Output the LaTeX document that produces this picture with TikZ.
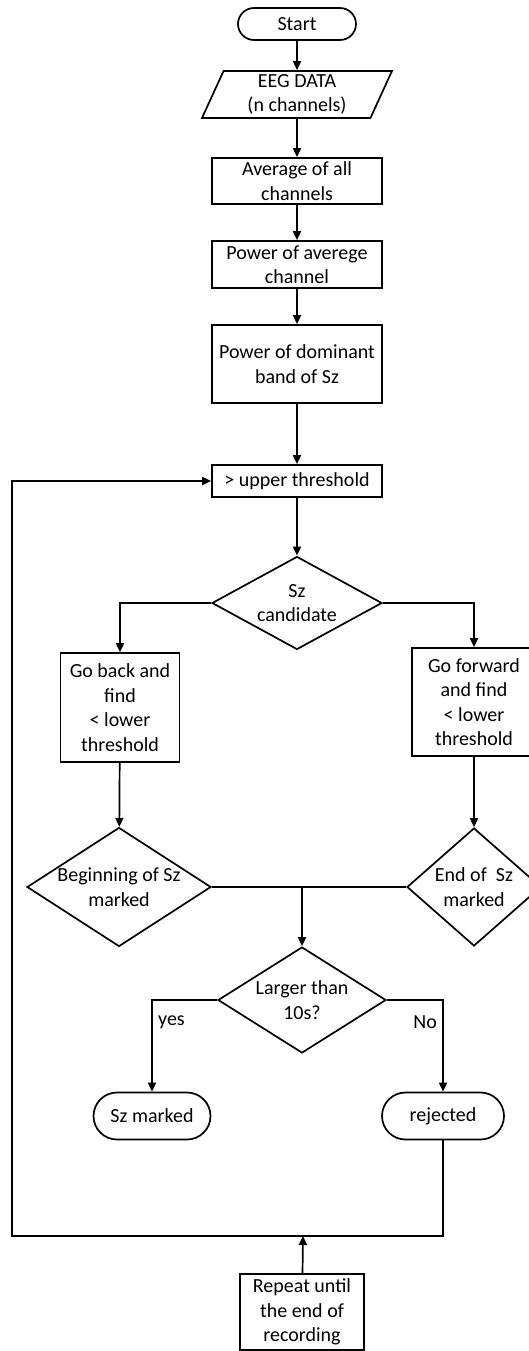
\documentclass[tikz,border=0pt]{standalone}
\usepackage{fontspec}
\setmainfont{Carlito}
\usetikzlibrary{shapes.geometric,shapes.misc,arrows.meta}

\tikzset{
  stepbox/.style={draw, rectangle, align=center, inner sep=1pt},
  terminal/.style={draw, rounded rectangle, align=center, inner sep=1pt},
  decision/.style={draw, diamond, align=center, inner sep=0pt},
  datain/.style={draw, trapezium, trapezium left angle=64, trapezium right angle=116,
    trapezium stretches body, align=center, inner sep=2pt},
  flow/.style={-{Triangle[length=9pt,width=8pt]}},
}

\begin{document}
\begin{tikzpicture}[x=1pt,y=-1pt,line width=1.7pt,
  every node/.style={font=\fontsize{20}{24.5}\selectfont}]
            \useasboundingbox (0,0) rectangle (529,1351);

            \node[terminal,minimum width=120,minimum height=32] (start) at (297,24) {Start};
            \node[datain,minimum width=190,minimum height=47] (eeg) at (297,94.5) {EEG DATA\\(n channels)};
            \node[stepbox,minimum width=170,minimum height=46] (avg) at (297,181) {Average of all\\channels};
            \node[stepbox,minimum width=170,minimum height=47] (pow) at (297,264.5) {Power of averege\\channel};
            \node[stepbox,minimum width=170,minimum height=78] (band) at (297,364) {Power of dominant\\band of Sz};
            \node[stepbox,minimum width=170,minimum height=32] (upper) at (297,481) {\textgreater\ upper threshold};

            \node[decision,minimum width=170,minimum height=93,aspect=1.83] (cand) at (297,603) {Sz\\candidate};
            \node[stepbox,minimum width=119,minimum height=109] (back) at (120,707.5) {Go back and\\find\\\textless\ lower\\threshold};
            \node[stepbox,minimum width=124,minimum height=108] (fwd) at (474,702) {Go forward\\and find\\\textless\ lower\\threshold};

            \node[decision,minimum width=184,minimum height=119,aspect=1.55] (begin) at (119,887) {Beginning of Sz\\marked};
            \node[decision,minimum width=134,minimum height=118,aspect=1.13] (end) at (474,887) {End of~ Sz\\marked};
            \node[decision,minimum width=168,minimum height=106,aspect=1.58] (len) at (302,1000) {Larger than\\10s?};

            \node[terminal,minimum width=119,minimum height=47] (marked) at (152,1116) {Sz marked};
            \node[terminal,minimum width=124,minimum height=47] (rej) at (443,1116) {rejected};
            \node[stepbox,minimum width=124,minimum height=76] (rep) at (302,1312) {Repeat until\\the end of\\recording};

            \coordinate (join) at (302,887);
            \coordinate (loop) at (303,1236);

            % main line
            \draw[flow] (start) -- (eeg);
            \draw[flow] (eeg) -- (avg);
            \draw[flow] (avg) -- (pow);
            \draw[flow] (pow) -- (band);
            \draw[flow] (band) -- (upper);
            \draw[flow] (upper) -- (cand);

            % both ways from the candidate
            \draw[flow] (cand.west) -| (back.north);
            \draw[flow] (cand.east) -| (fwd.north);
            \draw[flow] (back) -- (begin);
            \draw[flow] (fwd) -- (end);
            \draw (begin.east) -- (end.west);
            \draw[flow] (join) -- (len);

            \draw[flow] (len.west) -| node[pos=0.62,right=2pt] {yes} (marked.north);
            \draw[flow] (len.east) -| node[pos=0.62,left=2pt] {No} (rej.north);

            % back to the threshold
            \draw[flow] (rej.south) |- (loop) -| (12,481) -- (upper.west);
            \draw[flow] (rep) -- (loop);

        \end{tikzpicture}
\end{document}
